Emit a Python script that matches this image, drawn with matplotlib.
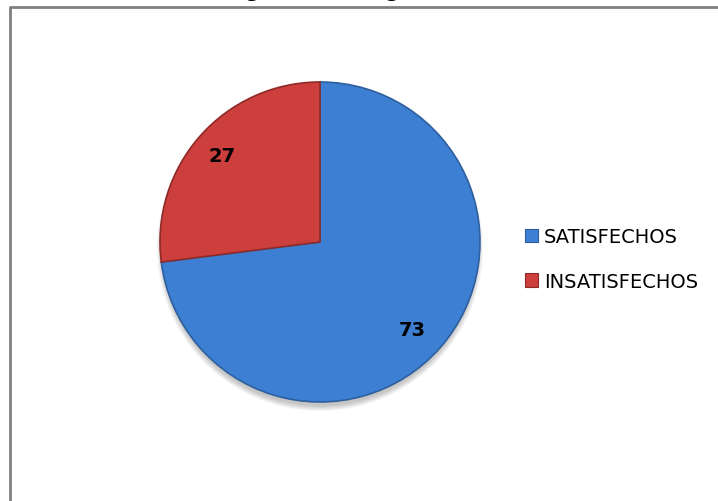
import matplotlib.pyplot as plt
from matplotlib.patches import Circle, Patch

# Survey results
categories = ["SATISFECHOS", "INSATISFECHOS"]
values = [73, 27]
colors = ["#3d7fd2", "#cc3f3c"]
edge_colors = ["#2e5f9e", "#8e2a28"]
title = "Figura 14. Pictograma"

W, H = 718, 502
fig = plt.figure(figsize=(W / 100, H / 100), dpi=100)
ax = fig.add_axes([0, 0, 1, 1])

# chart area border (only top and left are visible)
ax.plot([10, 10, W + 5], [-5, H - 8, H - 8], color="#808080", lw=2, solid_capstyle="butt")

# title sits mostly above the visible area, only descenders show
ax.text(338, H + 4, title, ha="center", va="baseline", fontsize=17,
        fontweight="bold", family="Liberation Serif", clip_on=False)

cx, cy, r = 320, H - 243, 160

# soft drop shadow under the pie
for i in range(6):
    ax.add_patch(Circle((cx, cy - 6), r - 2 + i * 1.0, color="#000000",
                        alpha=0.04, lw=0, zorder=1))

wedges, _ = ax.pie(values, colors=colors, startangle=90, counterclock=False,
                   center=(cx, cy), radius=r, frame=True,
                   wedgeprops=dict(linewidth=1.2, zorder=2))
for w, ec in zip(wedges, edge_colors):
    w.set_edgecolor(ec)
ax.set_xlim(0, W)
ax.set_ylim(0, H)
ax.set_aspect("equal")
ax.axis("off")

# value labels
ax.text(222, H - 157, str(values[1]), ha="center", va="center",
        fontsize=14, fontweight="bold", zorder=5)
ax.text(412, H - 330, str(values[0]), ha="center", va="center",
        fontsize=14, fontweight="bold", zorder=5)

handles = [Patch(facecolor=c, edgecolor=ec, lw=0.8) for c, ec in zip(colors, edge_colors)]
fig.legend(handles, categories, loc="center left", bbox_to_anchor=(515 / W, 1 - 260 / H),
           frameon=False, fontsize=14, handlelength=0.7, handleheight=0.7,
           handletextpad=0.3, labelspacing=1.3, borderpad=0)

fig.savefig("out.png", dpi=100)
